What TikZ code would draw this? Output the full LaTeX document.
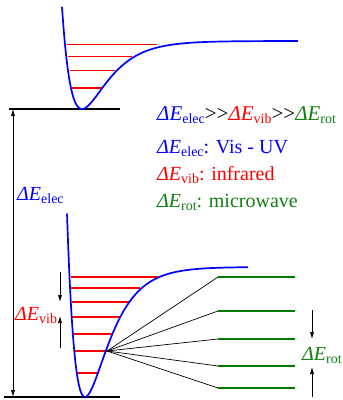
\documentclass[tikz,border=0pt]{standalone}
\usepackage{fontspec}
\setmainfont{Liberation Serif}
\newfontfamily\lserif{Liberation Serif}
\usetikzlibrary{arrows.meta}
\definecolor{grn}{HTML}{007A00}
\definecolor{txtgrn}{HTML}{108010}
\newcommand{\dE}[1]{\textit{ΔE}\raisebox{-3pt}{\fontsize{14}{14}\selectfont #1}}
\tikzset{morse/.style={draw=blue,line width=1.7pt},
  vibline/.style={draw=red,line width=1.4pt},
  rotline/.style={draw=grn,line width=1.4pt},
  ground/.style={draw=black,line width=1.4pt},
  fanline/.style={draw=black,line width=0.7pt},
  gaparr/.style={-{Latex[length=7pt,width=4pt]},line width=0.6pt},
  txt/.style={inner sep=0pt,anchor=base west,font=\lserif\fontsize{20}{24}\selectfont}}

\begin{document}
\begin{tikzpicture}[x=1pt,y=-1pt]
\useasboundingbox (0,0) rectangle (343,400);
% excited electronic state
\draw[ground] (9,109) -- (120,109);
\foreach \yy/\xa/\xb in {44.5/66.5/157,56.7/68/132,70.7/70/115,88/71.5/103}
  \draw[vibline] (\xa,\yy) -- (\xb,\yy);
\draw[morse] plot[domain=62:298,samples=160,smooth] (\x,{109-68*(1-exp(-0.04*(\x-82)))^2});
% ground electronic state
\draw[ground] (4,397) -- (120,397);
\foreach \yy/\xa/\xb in {277/71/158,288/71/140,302/72/130,317/72/120,334/73/113,351/74/107,373/77/99}
  \draw[vibline] (\xa,\yy) -- (\xb,\yy);
\draw[morse] plot[domain=67:248,samples=160,smooth] (\x,{397-130*(1-exp(-0.0435*(\x-85)))^2});
% rotational levels
\coordinate (fan) at (107,351);
\foreach \yy [count=\i] in {277,311,339,366,388}{
  \coordinate (r\i) at (218,\yy);
  \draw[rotline] (r\i) -- (295,\yy);
  \draw[fanline] (fan) -- (r\i);
}
% energy gaps
\coordinate (eup) at (13,109);
\coordinate (edn) at (13,397);
\draw[gaparr,{Latex[length=7pt,width=4pt]}-{Latex[length=7pt,width=4pt]}] (eup) -- (edn);
\node[txt,text=blue] (lelec) at (17,200) {\dE{elec}};
\coordinate (v1) at (60,272);
\coordinate (v2) at (60,302);
\coordinate (v3) at (60,348);
\coordinate (v4) at (60,316);
\draw[gaparr] (v1) -- (v2);
\draw[gaparr] (v3) -- (v4);
\node[txt,text=red] (lvib) at (15,320) {\dE{vib}};
\coordinate (g1) at (312,310);
\coordinate (g2) at (312,339);
\coordinate (g3) at (312,397);
\coordinate (g4) at (312,367);
\draw[gaparr] (g1) -- (g2);
\draw[gaparr] (g3) -- (g4);
\node[txt,text=txtgrn] (lrot) at (302,360) {\dE{rot}};
% legend
\node[txt,font=\lserif\fontsize{21}{25}\selectfont] (rel) at (157,120) {\textcolor{blue}{\dE{elec}}>\kern0pt>\textcolor{red}{\dE{vib}}>\kern0pt>\textcolor{txtgrn}{\dE{rot}}};
\node[txt,text=blue] (uv) at (157,153) {\dE{elec}: Vis - UV};
\node[txt,text=red] (ir) at (157,180) {\dE{vib}: infrared};
\node[txt,text=txtgrn] (mw) at (157,207) {\dE{rot}: microwave};
\end{tikzpicture}
\end{document}
